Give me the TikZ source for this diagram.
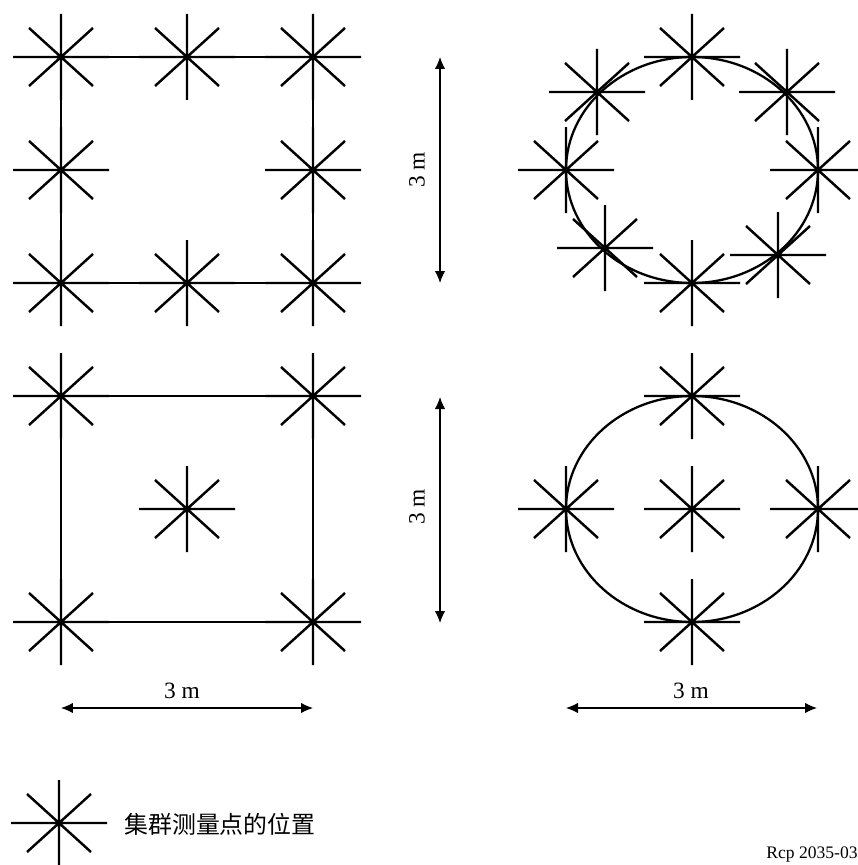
\documentclass[tikz,border=0pt]{standalone}
\usepackage{fontspec}
\setmainfont{Liberation Serif}
\newfontfamily\cjk{Noto Sans CJK SC}
\usetikzlibrary{arrows.meta}

\begin{document}
\begin{tikzpicture}[x=0.02cm,y=-0.02cm,
  edge/.style={line width=1.3pt},
  dim/.style={{Latex[length=0.24cm,width=0.21cm]}-{Latex[length=0.24cm,width=0.21cm]},line width=0.7pt},
  lbl/.style={font=\fontsize{13.3}{15}\selectfont,inner sep=0pt},
  cluster/.pic={\draw[line width=1.4pt] (-48,0) -- (48,0) (0,-43) -- (0,43)
    (-32,-29) -- (32,29) (-32,29) -- (32,-29);}]
\useasboundingbox (0,0) rectangle (858,865);
% square, 8 points
\coordinate (a1) at (61,57);  \coordinate (a2) at (187,57);  \coordinate (a3) at (313,57);
\coordinate (a4) at (61,170); \coordinate (a5) at (313,170);
\coordinate (a6) at (61,283); \coordinate (a7) at (187,283); \coordinate (a8) at (313,283);
\draw[edge] (a1) -- (a3) -- (a8) -- (a6) -- cycle;
\foreach \p in {a1,a2,a3,a4,a5,a6,a7,a8} \pic at (\p) {cluster};
% circle, 8 points
\coordinate (c0) at (692,170);
\draw[edge] (c0) ellipse [x radius=126, y radius=113];
\foreach \p/\q in {c1/{692,57},c2/{597,92},c3/{787,92},c4/{566,170},
                   c5/{818,170},c6/{605,248},c7/{778,255},c8/{692,283}} {
  \coordinate (\p) at (\q);
  \pic at (\p) {cluster};
}
% square, 5 points
\coordinate (b1) at (61,396);  \coordinate (b2) at (313,396);
\coordinate (b3) at (61,622);  \coordinate (b4) at (313,622);
\coordinate (b5) at (187,509);
\draw[edge] (b1) -- (b2) -- (b4) -- (b3) -- cycle;
\foreach \p in {b1,b2,b3,b4,b5} \pic at (\p) {cluster};
% circle, 5 points
\coordinate (d0) at (692,509);
\draw[edge] (d0) ellipse [x radius=126, y radius=113];
\foreach \p/\q in {d1/{692,396},d2/{566,509},d3/{818,509},d4/{692,622}} {
  \coordinate (\p) at (\q);
  \pic at (\p) {cluster};
}
\pic at (d0) {cluster};
% dimensions
\coordinate (v1) at (440,57);  \coordinate (v2) at (440,283);
\coordinate (v3) at (440,397); \coordinate (v4) at (440,623);
\coordinate (h1) at (61,708);  \coordinate (h2) at (313,708);
\coordinate (h3) at (566,708); \coordinate (h4) at (817,708);
\draw[dim] (v1) -- (v2);
\draw[dim] (v3) -- (v4);
\draw[dim] (h1) -- (h2);
\draw[dim] (h3) -- (h4);
\node[lbl,rotate=90] (m1) at (417,170) {3 m};
\node[lbl,rotate=90] (m2) at (417,507) {3 m};
\node[lbl] (m3) at (182,691) {3 m};
\node[lbl] (m4) at (691,691) {3 m};
% legend
\coordinate (k) at (59,823);
\pic at (k) {cluster};
\node[anchor=west,inner sep=0pt,font=\cjk\fontsize{13.6}{16}\selectfont] (key) at (124,824) {集群测量点的位置};
\node[anchor=base east,inner sep=0pt,font=\fontsize{10}{12}\selectfont] (ref) at (858,858) {Rcp 2035-03};
\end{tikzpicture}
\end{document}
